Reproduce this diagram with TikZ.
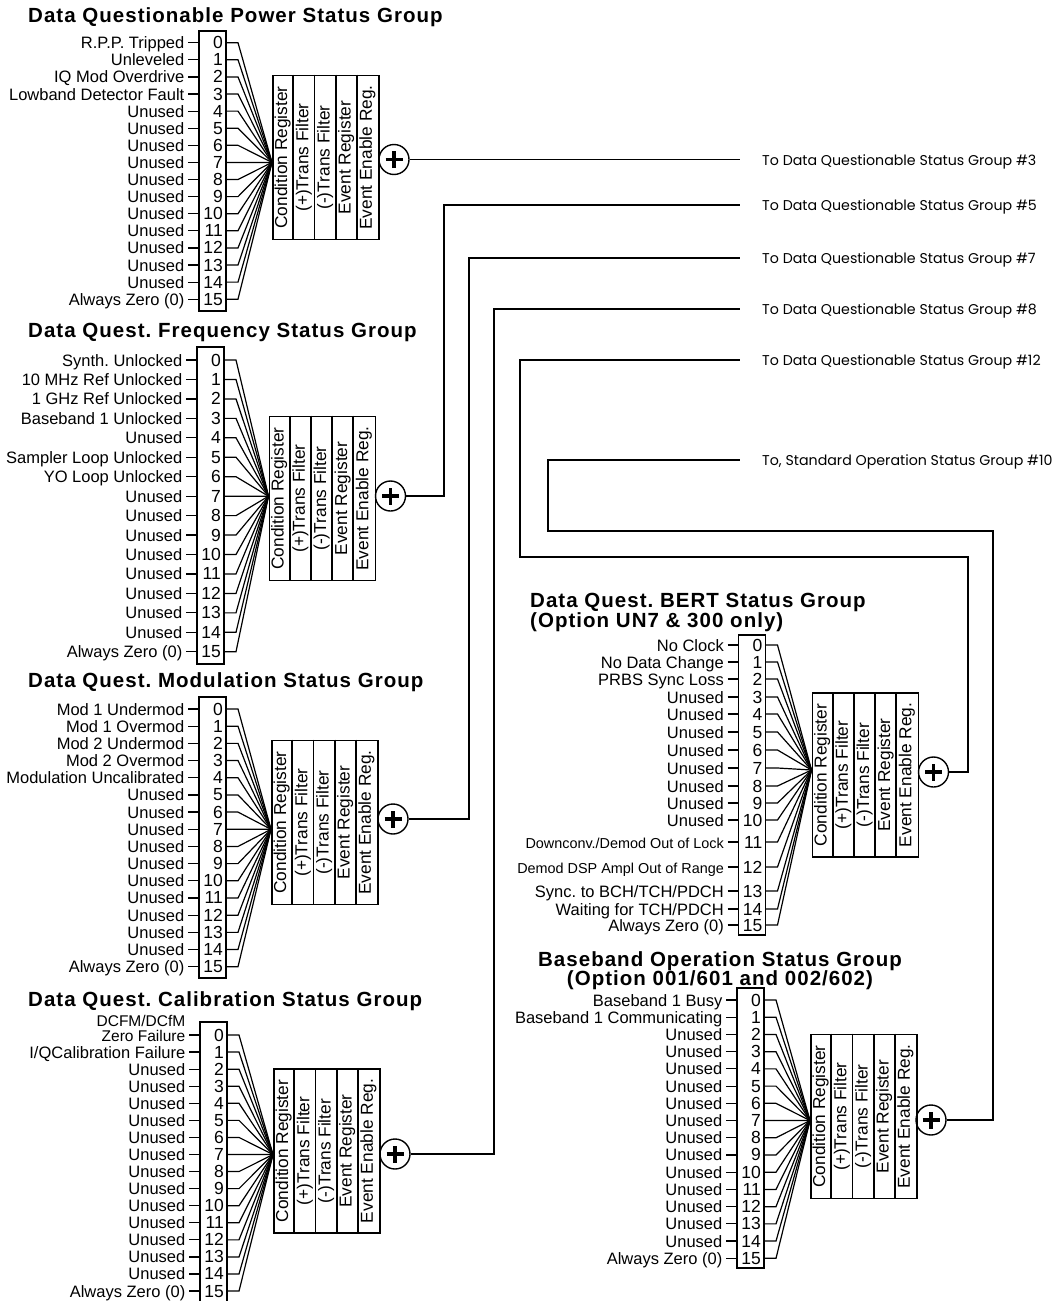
\documentclass[tikz,border=0pt]{standalone}
\usepackage{fontspec}
\setmainfont{Liberation Sans}
\newfontfamily\headfont[LetterSpace=5]{Liberation Sans}
\newfontfamily\gothfont{Poppins}
\frenchspacing
\begin{document}
\begin{tikzpicture}[x=1pt,y=-1pt,
    grptitle/.style={anchor=base west, inner sep=0pt, font=\headfont\bfseries\fontsize{20.5}{20}\selectfont},
    bitbox/.style={draw, line width=1.6pt, minimum width=27pt, inner sep=0pt},
    bitnum/.style={anchor=east, inner sep=0pt, text height=12pt, text depth=0pt, font=\fontsize{17.5}{17.5}\selectfont},
    bitlab/.style={anchor=east, inner xsep=3.5pt, inner ysep=0pt, text height=12pt, text depth=0pt, font=\fontsize{16.5}{16.5}\selectfont},
    regbox/.style={draw, line width=1.6pt, minimum width=106pt, minimum height=164pt, inner sep=0pt, anchor=west},
    regtext/.style={rotate=90, inner sep=0pt, text height=12.5pt, text depth=3.5pt, font=\fontsize{17.3}{17.3}\selectfont},
    fan/.style={line width=1.2pt},
    wire/.style={line width=1.8pt},
    sum/.style={circle, draw, line width=1.4pt, minimum size=30pt, inner sep=0pt,
        path picture={\draw[line width=3.2pt] ([xshift=-8.5pt]path picture bounding box.center) -- ([xshift=8.5pt]path picture bounding box.center)
            ([yshift=-8.5pt]path picture bounding box.center) -- ([yshift=8.5pt]path picture bounding box.center);}},
    tolab/.style={anchor=west, inner sep=0pt, text height=11pt, text depth=0pt, font=\gothfont\fontsize{14.2}{14.2}\selectfont}]
\useasboundingbox (0,0) rectangle (1058,1301);
\def\regcols{Condition Register,{(+)Trans Filter},{(-)Trans Filter},Event Register,Event Enable Reg.}

% Data Questionable Power Status Group
\node[grptitle] (pwtitle) at (28,22) {Data Questionable Power Status Group};
\node[bitbox, minimum height=280pt] (pwbox) at (212.5,171) {};
\node[regbox] (pwreg) at (272,157.5) {};
\coordinate (pwc) at (272,162.4);
\foreach \lab [count=\i from 0] in {R.P.P. Tripped,Unleveled,IQ Mod Overdrive,Lowband Detector Fault,Unused,Unused,Unused,Unused,Unused,Unused,Unused,Unused,Unused,Unused,Unused,{Always Zero (0)}} {
    \coordinate (pwb\i) at (199,42.7+17.1*\i);
    \node[bitnum] (pwn\i) at ([xshift=24pt]pwb\i) {\i};
    \node[bitlab] (pwl\i) at ([xshift=-11pt]pwb\i) {\lab};
    \draw[fan] (pwl\i) -- (pwb\i);
    \draw[fan] ([xshift=27pt]pwb\i) -- ++(12,0) -- (pwc);
}
\foreach \t [count=\k from 0] in \regcols
    \node[regtext] (pwreg\k) at ([xshift=10.6pt+21.2pt*\k]pwreg.west) {\t};
\foreach \k in {1,...,4}
    \draw[wire] ([xshift=21.2pt*\k]pwreg.north west) -- ([xshift=21.2pt*\k]pwreg.south west);
\node[sum] (pwsum) at (394,159.5) {};
\coordinate (pwend) at (740,159.5);
\node[tolab] (to3) at (762,159.5) {To Data Questionable Status Group \#3};
\draw[wire] (pwsum) -- (pwend);

% Data Quest. Frequency Status Group
\node[grptitle] (fqtitle) at (28,337) {Data Quest. Frequency Status Group};
\node[bitbox, minimum height=317pt] (fqbox) at (210.5,505.5) {};
\node[regbox] (fqreg) at (268.5,498.5) {};
\coordinate (fqc) at (268.5,496.2);
\foreach \lab [count=\i from 0] in {Synth. Unlocked,10 MHz Ref Unlocked,1 GHz Ref Unlocked,Baseband 1 Unlocked,Unused,Sampler Loop Unlocked,YO Loop Unlocked,Unused,Unused,Unused,Unused,Unused,Unused,Unused,Unused,{Always Zero (0)}} {
    \coordinate (fqb\i) at (197,360+19.45*\i);
    \node[bitnum] (fqn\i) at ([xshift=24pt]fqb\i) {\i};
    \node[bitlab] (fql\i) at ([xshift=-11pt]fqb\i) {\lab};
    \draw[fan] (fql\i) -- (fqb\i);
    \draw[fan] ([xshift=27pt]fqb\i) -- ++(12,0) -- (fqc);
}
\foreach \t [count=\k from 0] in \regcols
    \node[regtext] (fqreg\k) at ([xshift=10.6pt+21.2pt*\k]fqreg.west) {\t};
\foreach \k in {1,...,4}
    \draw[wire] ([xshift=21.2pt*\k]fqreg.north west) -- ([xshift=21.2pt*\k]fqreg.south west);
\node[sum] (fqsum) at (390.5,496) {};
\coordinate (fqend) at (740,205);
\node[tolab] (to5) at (762,205) {To Data Questionable Status Group \#5};
\draw[wire] (fqsum) -| (444,205) -- (fqend);

% Data Quest. Modulation Status Group
\node[grptitle] (mdtitle) at (28,687) {Data Quest. Modulation Status Group};
\node[bitbox, minimum height=281pt] (mdbox) at (212.5,837.5) {};
\node[regbox] (mdreg) at (271,822.5) {};
\coordinate (mdc) at (271,829.3);
\foreach \lab [count=\i from 0] in {Mod 1 Undermod,Mod 1 Overmod,Mod 2 Undermod,Mod 2 Overmod,Modulation Uncalibrated,Unused,Unused,Unused,Unused,Unused,Unused,Unused,Unused,Unused,Unused,{Always Zero (0)}} {
    \coordinate (mdb\i) at (199,709+17.18*\i);
    \node[bitnum] (mdn\i) at ([xshift=24pt]mdb\i) {\i};
    \node[bitlab] (mdl\i) at ([xshift=-11pt]mdb\i) {\lab};
    \draw[fan] (mdl\i) -- (mdb\i);
    \draw[fan] ([xshift=27pt]mdb\i) -- ++(12,0) -- (mdc);
}
\foreach \t [count=\k from 0] in \regcols
    \node[regtext] (mdreg\k) at ([xshift=10.6pt+21.2pt*\k]mdreg.west) {\t};
\foreach \k in {1,...,4}
    \draw[wire] ([xshift=21.2pt*\k]mdreg.north west) -- ([xshift=21.2pt*\k]mdreg.south west);
\node[sum] (mdsum) at (393,819) {};
\coordinate (mdend) at (740,258);
\node[tolab] (to7) at (762,258) {To Data Questionable Status Group \#7};
\draw[wire] (mdsum) -| (469,258) -- (mdend);

% Data Quest. Calibration Status Group
\node[grptitle] (cltitle) at (28,1006) {Data Quest. Calibration Status Group};
\node[bitbox, minimum height=281pt] (clbox) at (213.5,1162.5) {};
\node[regbox] (clreg) at (273,1151) {};
\coordinate (clc) at (273,1154.5);
\foreach \lab [count=\i from 0] in {{\fontsize{15.5}{15.5}\selectfont Zero Failure},I/QCalibration Failure,Unused,Unused,Unused,Unused,Unused,Unused,Unused,Unused,Unused,Unused,Unused,Unused,Unused,{Always Zero (0)}} {
    \coordinate (clb\i) at (200,1035+17.07*\i);
    \node[bitnum] (cln\i) at ([xshift=24pt]clb\i) {\i};
    \node[bitlab] (cll\i) at ([xshift=-11pt]clb\i) {\lab};
    \draw[fan] (cll\i) -- (clb\i);
    \draw[fan] ([xshift=27pt]clb\i) -- ++(12,0) -- (clc);
}
\node[bitlab, font=\fontsize{15.5}{15.5}\selectfont] (cldcfm) at ([yshift=15pt]cll0.east) {DCFM/DCfM};
\foreach \t [count=\k from 0] in \regcols
    \node[regtext] (clreg\k) at ([xshift=10.6pt+21.2pt*\k]clreg.west) {\t};
\foreach \k in {1,...,4}
    \draw[wire] ([xshift=21.2pt*\k]clreg.north west) -- ([xshift=21.2pt*\k]clreg.south west);
\node[sum] (clsum) at (395,1154) {};
\coordinate (clend) at (740,309);
\node[tolab] (to8) at (762,309) {To Data Questionable Status Group \#8};
\draw[wire] (clsum) -| (494,309) -- (clend);

% Data Quest. BERT Status Group
\node[grptitle] (bttitle) at (530,607.5) {Data Quest. BERT Status Group};
\node[grptitle] (bttitle2) at (530,627) {(Option UN7 \& 300 only)};
\node[bitbox, minimum height=300pt] (btbox) at (752,785) {};
\node[regbox] (btreg) at (811.5,775) {};
\coordinate (btc) at (811.5,770);
\foreach \yy [count=\i from 0] in {645,662,679,697,714,732,750,768,786,803,820,842,867,891,909,925} {
    \coordinate (btb\i) at (738.5,\yy);
    \node[bitnum] (btn\i) at ([xshift=24pt]btb\i) {\i};
    \draw[fan] ([xshift=27pt]btb\i) -- ++(12,0) -- (btc);
}
\foreach \lab [count=\i from 0] in {No Clock,No Data Change,PRBS Sync Loss,Unused,Unused,Unused,Unused,Unused,Unused,Unused,Unused,{\fontsize{14.4}{14.4}\selectfont Downconv./Demod Out of Lock},{\fontsize{14.4}{14.4}\selectfont Demod DSP Ampl Out of Range},Sync. to BCH/TCH/PDCH,Waiting for TCH/PDCH,{Always Zero (0)}} {
    \node[bitlab] (btl\i) at ([xshift=-11pt]btb\i) {\lab};
    \draw[fan] (btl\i) -- (btb\i);
}
\foreach \t [count=\k from 0] in \regcols
    \node[regtext] (btreg\k) at ([xshift=10.6pt+21.2pt*\k]btreg.west) {\t};
\foreach \k in {1,...,4}
    \draw[wire] ([xshift=21.2pt*\k]btreg.north west) -- ([xshift=21.2pt*\k]btreg.south west);
\node[sum] (btsum) at (933.5,772) {};
\coordinate (btend) at (740,360);
\node[tolab] (to12) at (762,360) {To Data Questionable Status Group \#12};
\draw[wire] (btsum) -| (968,557) -| (520,360) -- (btend);

% Baseband Operation Status Group
\node[grptitle, anchor=base] (bbtitle) at (720,966) {Baseband Operation Status Group};
\node[grptitle, anchor=base] (bbtitle2) at (720,985) {(Option 001/601 and 002/602)};
\node[bitbox, minimum height=280pt] (bbbox) at (750.5,1128) {};
\node[regbox] (bbreg) at (810,1116.5) {};
\coordinate (bbc) at (810,1120.5);
\foreach \lab [count=\i from 0] in {Baseband 1 Busy,Baseband 1 Communicating,Unused,Unused,Unused,Unused,Unused,Unused,Unused,Unused,Unused,Unused,Unused,Unused,Unused,{Always Zero (0)}} {
    \coordinate (bbb\i) at (737,1000+17.22*\i);
    \node[bitnum] (bbn\i) at ([xshift=24pt]bbb\i) {\i};
    \node[bitlab] (bbl\i) at ([xshift=-11pt]bbb\i) {\lab};
    \draw[fan] (bbl\i) -- (bbb\i);
    \draw[fan] ([xshift=27pt]bbb\i) -- ++(12,0) -- (bbc);
}
\foreach \t [count=\k from 0] in \regcols
    \node[regtext] (bbreg\k) at ([xshift=10.6pt+21.2pt*\k]bbreg.west) {\t};
\foreach \k in {1,...,4}
    \draw[wire] ([xshift=21.2pt*\k]bbreg.north west) -- ([xshift=21.2pt*\k]bbreg.south west);
\node[sum] (bbsum) at (931,1120) {};
\coordinate (bbend) at (740,460);
\node[tolab] (to10) at (762,460) {To, Standard Operation Status Group \#10};
\draw[wire] (bbsum) -| (993,531) -| (548,460) -- (bbend);
\end{tikzpicture}
\end{document}
